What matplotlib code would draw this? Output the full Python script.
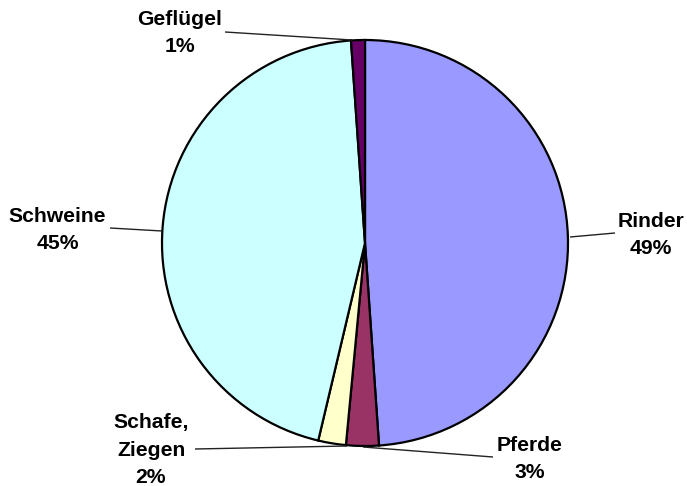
import matplotlib
matplotlib.use("Agg")
import matplotlib.pyplot as plt

categories = ["Rinder", "Pferde", "Schafe,\nZiegen", "Schweine", "Geflügel"]
values = [48.9, 2.6, 2.2, 45.2, 1.1]
colors = ["#9999FF", "#993366", "#FFFFCC", "#CCFFFF", "#660066"]

W, H = 687, 486
fig = plt.figure(figsize=(W / 100, H / 100), dpi=100)
ax = fig.add_axes([0, 0, 1, 1])
ax.set_xlim(0, W)
ax.set_ylim(0, H)
ax.set_aspect("equal")
ax.axis("off")

ax.pie(values, colors=colors, startangle=90, counterclock=False,
       center=(365, H - 243), radius=203, frame=True,
       wedgeprops=dict(edgecolor="black", linewidth=1.6))
ax.set_xlim(0, W)
ax.set_ylim(0, H)
ax.axis("off")

# label layout: (x center, first baseline y in px from top), leader line endpoints
label_pos = [(651, 227), (530, 451), (151, 428), (57.5, 222), (179.5, 25)]
leaders = [((570, 237), (615, 233)),
           ((363, 447), (493, 457)),
           ((347, 446), (195, 449)),
           ((162, 231), (110, 228)),
           ((352, 40), (225, 32))]
line_step = 27.5
total = sum(values)
font = dict(family="Liberation Sans", fontweight="bold", fontsize=15.2)

for cat, v, (x, y0), (p1, p2) in zip(categories, values, label_pos, leaders):
    lines = cat.split("\n") + [f"{round(v / total * 100):.0f}%"]
    for i, t in enumerate(lines):
        ax.text(x, H - (y0 + i * line_step), t, ha="center", va="baseline", **font)
    ax.plot([p1[0], p2[0]], [H - p1[1], H - p2[1]], color="#222222", lw=1.0,
            solid_capstyle="butt")

fig.savefig("out.png", dpi=100)
